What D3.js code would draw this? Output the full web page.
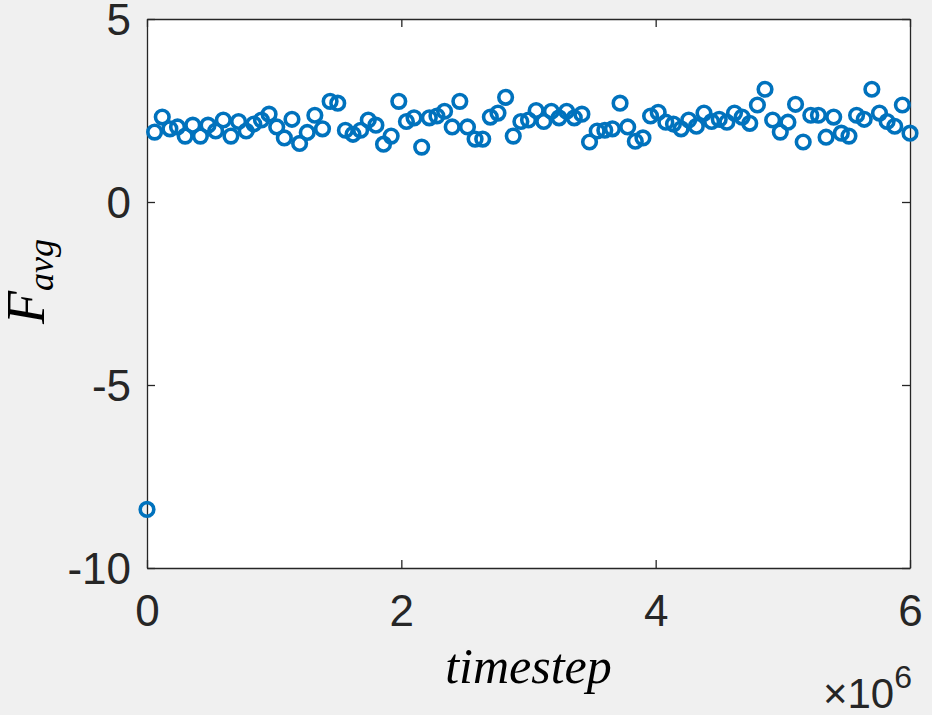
<!DOCTYPE html>
<html><head><meta charset="utf-8">
<script src="https://cdn.jsdelivr.net/npm/d3@7"></script>
<style>html,body{margin:0;padding:0;background:#f0f0f0;}</style>
</head><body>
<svg id="c" width="932" height="715"></svg>
<script>
const xStep = 60000;
const yValues = [-8.4,1.91,2.32,2.0,2.05,1.8,2.1,1.8,2.1,1.94,2.24,1.8,2.2,1.94,2.13,2.24,2.4,2.05,1.75,2.26,
1.6,1.9,2.37,2.0,2.75,2.7,1.96,1.85,1.96,2.24,2.1,1.58,1.8,2.75,2.2,2.3,1.5,2.3,2.35,2.48,
2.05,2.75,2.05,1.72,1.72,2.32,2.43,2.86,1.8,2.2,2.24,2.5,2.2,2.48,2.3,2.48,2.3,2.4,1.64,1.94,
1.96,2.0,2.7,2.05,1.66,1.75,2.35,2.45,2.18,2.13,2.0,2.24,2.07,2.43,2.2,2.26,2.18,2.43,2.32,2.15,
2.65,3.08,2.24,1.91,2.18,2.67,1.64,2.37,2.37,1.77,2.32,1.88,1.8,2.37,2.26,3.08,2.43,2.2,2.07,2.65,1.88];
const xTicks = [0,2e6,4e6,6e6];
const xTickLabels = ["0","2","4","6"];
const yTicks = [-10,-5,0,5];
const yTickLabels = ["-10","-5","0","5"];

const svg = d3.select("#c");
const L=147, R=910, T=19, B=568;
const x = d3.scaleLinear().domain([0,6e6]).range([L,R]);
const y = d3.scaleLinear().domain([-10,5]).range([B,T]);
const data = yValues.map((v,i)=>({x:i*xStep,y:v}));

svg.append("rect").attr("x",L).attr("y",T).attr("width",R-L).attr("height",B-T).attr("fill","#fff");

const axCol="#262626";
const font="'Liberation Sans', Arial, Helvetica, sans-serif";
const serif="'Liberation Serif', 'DejaVu Serif', serif";
const tl=8;
const gx = svg.append("g").attr("transform",`translate(0,${B})`)
  .call(d3.axisBottom(x).tickValues(xTicks).tickFormat((d,i)=>xTickLabels[i]).tickSizeInner(-tl).tickSizeOuter(0).tickPadding(26));
const gy = svg.append("g").attr("transform",`translate(${L},0)`)
  .call(d3.axisLeft(y).tickValues(yTicks).tickFormat((d,i)=>yTickLabels[i]).tickSizeInner(-tl).tickSizeOuter(0).tickPadding(16));
const gt = svg.append("g").attr("transform",`translate(0,${T})`)
  .call(d3.axisTop(x).tickValues(xTicks).tickFormat("").tickSizeInner(-tl).tickSizeOuter(0));
const gr = svg.append("g").attr("transform",`translate(${R},0)`)
  .call(d3.axisRight(y).tickValues(yTicks).tickFormat("").tickSizeInner(-tl).tickSizeOuter(0));
[gx,gy,gt,gr].forEach(g=>{
  g.selectAll("path").attr("stroke",axCol).attr("stroke-width",1.3);
  g.selectAll("line").attr("stroke",axCol).attr("stroke-width",1.3);
  g.selectAll("text").attr("fill",axCol).style("font-family",font).style("font-size","44px");
});
gy.selectAll("text").attr("dy","0.36em");
gx.selectAll("text").attr("dy","0.72em");

svg.append("g").selectAll("circle").data(data).join("circle")
  .attr("cx",d=>x(d.x)).attr("cy",d=>y(d.y)).attr("r",6.8)
  .attr("fill","none").attr("stroke","#0072BD").attr("stroke-width",3.6);

svg.append("text").attr("x",(L+R)/2).attr("y",683).attr("text-anchor","middle")
  .style("font-family",serif).style("font-style","italic").style("font-size","50px")
  .attr("fill","#000").text("timestep");
const ex = svg.append("text").attr("x",R+2).attr("y",708).attr("text-anchor","end")
  .style("font-family",font).style("font-size","42px").attr("fill",axCol);
ex.append("tspan").text("×10");
ex.append("tspan").attr("dy",-20).style("font-size","32px").text("6");
const yl = svg.append("text").attr("transform",`translate(44,${(T+B)/2-12}) rotate(-90)`).attr("text-anchor","middle")
  .style("font-family",serif).style("font-style","italic").attr("fill","#000");
yl.append("tspan").style("font-size","54px").text("F");
yl.append("tspan").attr("dy",9).style("font-size","36px").text("avg");
</script>
</body></html>
